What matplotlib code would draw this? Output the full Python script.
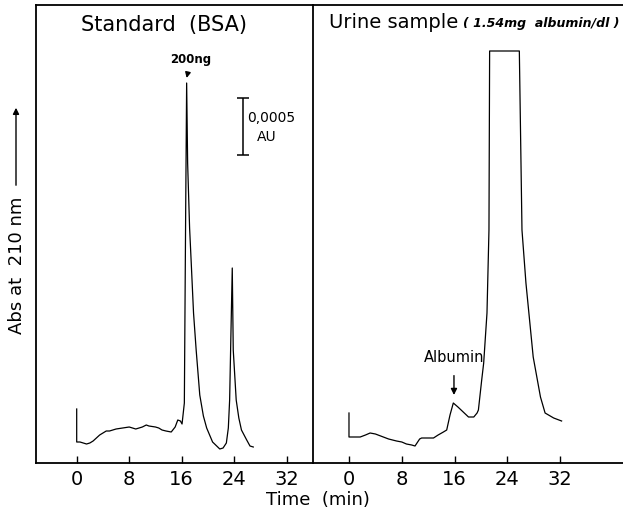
import numpy as np
import matplotlib
matplotlib.use('Agg')
import matplotlib.pyplot as plt

plt.rcParams['font.family'] = ['DejaVu Sans']

# standard (BSA) trace, time in min, signal in arbitrary units
std_time = [0, 0, 0.5, 1, 1.5, 2, 2.5, 3, 3.5, 4, 4.5, 5, 5.5, 6, 7, 8, 8.5, 9, 9.5, 10,
            10.6, 11, 12, 12.5, 13, 13.6, 14.4, 15, 15.4, 15.8, 16.05, 16.4, 16.6, 16.75,
            16.9, 17.2, 17.45, 17.8, 18.2, 18.75, 19.3, 19.8, 20.7, 21.8, 22.3, 22.8, 23.1,
            23.3, 23.5, 23.7, 23.85, 24.3, 24.7, 25.1, 25.5, 25.9, 26.4, 26.9]
std_abs = [54, 21, 21, 20, 19, 20, 22, 25, 28, 30, 32, 32, 33, 34, 35, 36, 35, 34, 35, 36,
           38, 37, 36, 35, 33, 32, 31, 36, 43, 42, 39, 60, 250, 380,
           300, 235, 200, 150, 113, 68, 47, 35, 21, 14, 15, 20, 35,
           63, 130, 195, 113, 63, 45, 33, 28, 23, 17, 16]

# urine sample trace
uri_time = [0, 0, 1, 1.7, 2.5, 3.2, 4, 5.2, 6, 7.2, 8, 8.7, 9.5, 10, 10.3, 10.7, 11, 12,
            12.8, 13.5, 14.3, 14.8, 15.3, 15.8, 16.5, 17.3, 18.1, 18.9, 19.4, 19.6, 20.1,
            20.4, 20.9, 21.2, 21.3, 25.8, 26.2, 26.8, 27.9, 29.0, 29.7, 31.0, 32.2]
uri_abs = [50, 26, 26, 26, 28, 30, 29, 26, 24, 22, 21, 19, 18, 17, 20, 24, 25, 25,
           25, 28, 31, 33, 48, 60, 56, 51, 46, 46, 50, 53, 83,
           100, 150, 233, 412, 412, 233, 180, 106, 66, 50, 45, 42]

time_ticks = [0, 8, 16, 24, 32]

W, H = 623, 516
fig = plt.figure(figsize=(W / 100, H / 100), dpi=100)


def fx(px):
    return px / W


def fy(py):
    return 1 - py / H


ax1 = fig.add_axes([fx(36), fy(463), fx(313 - 36), fy(5) - fy(463)])
ax2 = fig.add_axes([fx(313), fy(463), fx(623 - 313), fy(5) - fy(463)])
ax2.patch.set_visible(False)

ax1.plot(std_time, std_abs, color='black', lw=0.9)
ax2.plot(uri_time, uri_abs, color='black', lw=0.9)

ax1.set_xlim(-6.2, 36.0)
ax2.set_xlim(-5.45, 41.5)
for ax in (ax1, ax2):
    ax.set_ylim(0, 458)
    ax.set_yticks([])
    ax.set_xticks(time_ticks)
    ax.tick_params(axis='x', direction='in', length=5, width=1.0, pad=5, labelsize=14)
    for s in ax.spines.values():
        s.set_linewidth(1.3)
ax2.spines['right'].set_visible(False)
ax2.spines['left'].set_visible(False)

# panel titles
ax1.text(0.7, 438, 'Standard  (BSA)', fontsize=15, va='center', ha='left')
ax2.text(-3.0, 441, 'Urine sample', fontsize=14, va='center', ha='left')
ax2.text(17.3, 440, '( 1.54mg  albumin/dl )', fontsize=9, fontweight='bold',
         fontstyle='italic', va='center', ha='left')

# peak labels
ax1.annotate('200ng', xy=(16.75, 385), xytext=(17.4, 404), fontsize=8.5, fontweight='bold',
             ha='center', va='center',
             arrowprops=dict(arrowstyle='-|>', color='black', lw=1.0, mutation_scale=8,
                             shrinkA=3, shrinkB=0))
ax2.annotate('Albumin', xy=(15.9, 68), xytext=(15.9, 106), fontsize=10.5,
             ha='center', va='center',
             arrowprops=dict(arrowstyle='-|>', color='black', lw=1.0, mutation_scale=9,
                             shrinkA=6, shrinkB=0))

# scale bar
ax1.errorbar([25.3], [336.5], yerr=[[28.5], [28.5]], fmt='none', ecolor='black',
             elinewidth=1.1, capsize=4, capthick=1.1)
ax1.text(26.0, 345, '0,0005', fontsize=10, va='center', ha='left')
ax1.text(29.0, 326, 'AU', fontsize=10, va='center', ha='center')

# axis labels
fig.text(fx(318), fy(500), 'Time  (min)', fontsize=13, ha='center', va='center')
fig.text(fx(17), fy(265), 'Abs at  210 nm', fontsize=13, rotation=90,
         ha='center', va='center')
fig.add_artist(matplotlib.patches.FancyArrowPatch(
    (fx(16), fy(188)), (fx(16), fy(105)), transform=fig.transFigure,
    arrowstyle='-|>', mutation_scale=9, color='black', lw=1.0))

fig.savefig('out.png', dpi=100)
